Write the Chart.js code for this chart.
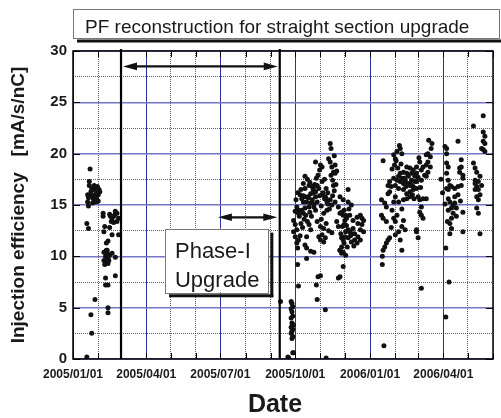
<!DOCTYPE html>
<html>
<head>
<meta charset="utf-8">
<script src="https://cdn.jsdelivr.net/npm/chart.js@4.4.1/dist/chart.umd.min.js"></script>
<style>
  html, body { margin: 0; padding: 0; background: #fff; }
  #wrap { width: 501px; height: 418px; }
</style>
</head>
<body>
<div id="wrap"><canvas id="effChart" width="501" height="418"></canvas></div>
<script>
const FONT = "'Liberation Sans', Arial, sans-serif";
const INK = "#1a1a1a";

// month grid of the x axis, labels only every quarter
const monthTicks = ["2005/01/01", "2005/02/01", "2005/03/01", "2005/04/01", "2005/05/01", "2005/06/01",
  "2005/07/01", "2005/08/01", "2005/09/01", "2005/10/01", "2005/11/01", "2005/12/01",
  "2006/01/01", "2006/02/01", "2006/03/01", "2006/04/01", "2006/05/01", "2006/06/01"];
const labelledTicks = ["2005/01/01", "2005/04/01", "2005/07/01", "2005/10/01", "2006/01/01", "2006/04/01"];
const effTicks = [0, 5, 10, 15, 20, 25, 30];

// shutdown for the straight section upgrade, and the Phase-I part of it
const shutdownDates = ["2005/03/01", "2005/09/12"];
const phaseIDates = ["2005/06/28", "2005/09/09"];

// measured points: day counted from 2005/01/01, efficiency in mA/s/nC
const run1Days = [21, 20, 23, 25, 22, 27, 30, 32, 29, 27, 31, 33, 18, 19, 18, 25, 29, 28, 24, 19, 26, 17, 19,
  37, 37, 45, 52, 54, 50, 48, 47, 56, 54, 50, 38, 45, 48, 56, 43, 41, 41, 38, 43, 40, 43, 38, 41, 45, 48, 52, 39, 43, 40, 52, 40, 43,
  27, 43, 43, 22, 23, 17,
  20, 23, 26, 31, 46, 51, 42, 44, 39];
const run1Eff = [18.5, 17.3, 16.6, 16.5, 16.3, 16.6, 16.8, 16.5, 16.2, 16.0, 16.0, 16.3, 16.0, 15.7, 15.3, 15.6, 15.6, 15.3, 15.2, 14.9, 15.9, 13.2, 12.7,
  14.2, 13.9, 14.1, 14.4, 14.2, 13.9, 13.7, 13.4, 13.7, 13.4, 13.3, 12.4, 12.8, 12.1, 12.1, 11.5, 11.3, 10.6, 10.4, 10.2, 10.0, 9.8, 9.6, 9.4, 10.1, 10.3, 9.9, 9.2, 9.3, 7.9, 8.1, 7.2, 7.2,
  5.8, 5.0, 4.5, 4.3, 2.5, 0.2,
  16.9, 15.9, 16.9, 15.4, 13.9, 14.0, 10.6, 9.6, 12.9];

const run2Days = [271, 264, 265, 270, 268, 269, 270, 268, 269, 270, 268, 269, 271, 268, 270, 269, 268, 270, 269, 255,
  277, 299, 301, 304, 300, 310, 311, 326, 332, 276,
  298, 304, 306, 316, 318, 322, 320, 317, 322, 319, 320, 316, 317, 314,
  285, 283, 280, 285, 290, 294, 296, 292, 298, 302, 306,
  279, 281, 285, 283, 287, 292, 294, 298, 300, 296, 298, 290, 285, 281, 277, 275, 273, 277, 283,
  310, 312, 316, 322, 318, 312, 308, 326, 328, 333, 335,
  271, 273, 275, 271, 273, 277, 275, 290, 292, 287, 285, 287, 287, 292,
  300, 304, 308, 306, 310, 304, 308, 333, 335, 330, 333, 328, 330,
  328, 332, 338, 338, 330, 332, 334, 336, 340, 344, 349, 353, 355, 357, 350, 344, 340, 346, 350, 353, 349, 342, 338, 334, 332, 330, 332, 328, 355, 353, 346, 357, 328,
  288, 291, 295, 300, 303, 306, 309, 313, 289, 296, 305, 311,
  274, 276, 278, 280, 282, 284, 286, 288, 279, 276, 283, 289, 291, 293, 295,
  297, 299, 301, 303, 307, 309, 311, 313, 315, 319, 321, 323, 305, 311, 314, 318, 302, 296, 321, 324,
  324, 326, 329, 331, 336, 338, 341, 343, 337, 335, 339, 342, 345];
const run2Eff = [0.6, 0.2, 0.1, 0.6, 5.6, 5.4, 5.1, 4.9, 4.6, 4.2, 4.0, 3.5, 3.3, 3.1, 2.9, 2.7, 2.5, 2.2, 2.0, 5.6,
  7.1, 7.2, 8.0, 8.1, 5.8, 4.8, 0.1, 7.9, 9.0, 9.2,
  19.2, 18.9, 18.7, 19.2, 18.7, 18.9, 18.2, 17.9, 18.1, 17.4, 16.9, 21.0, 20.5, 19.5,
  17.8, 17.1, 16.5, 16.6, 16.9, 16.8, 16.8, 16.1, 16.3, 16.6, 17.3,
  16.0, 15.6, 15.8, 15.3, 15.3, 15.2, 15.5, 15.8, 15.3, 14.8, 14.5, 14.8, 14.7, 14.5, 14.5, 14.8, 14.4, 14.2, 14.2,
  15.8, 15.3, 15.5, 15.3, 15.0, 14.5, 14.2, 14.8, 14.2, 14.5, 14.0,
  13.5, 13.1, 12.6, 12.4, 11.9, 11.6, 11.3, 13.1, 12.6, 11.9, 11.1, 10.8, 9.8, 10.5,
  13.4, 12.9, 12.7, 12.1, 11.8, 11.6, 11.4, 13.1, 12.4, 11.8, 11.3, 10.6, 10.3,
  15.8, 15.5, 16.5, 15.3, 14.3, 14.0, 13.5, 13.7, 14.0, 13.5, 13.8, 14.0, 13.7, 13.5, 13.2, 12.7, 12.4, 12.2, 11.9, 11.6, 11.3, 11.4, 11.8, 11.9, 11.6, 10.9, 10.4, 10.6, 13.1, 12.6, 11.6, 12.4, 8.0,
  17.5, 17.2, 16.2, 16.9, 15.9, 16.0, 15.6, 16.2, 15.8, 15.1, 14.9, 15.6,
  15.5, 16.2, 13.9, 13.2, 12.8, 13.6, 14.0, 13.4, 12.0, 10.8, 15.9, 15.7, 14.3, 13.9, 16.5,
  17.0, 17.6, 17.9, 18.4, 16.2, 17.5, 16.6, 15.1, 14.6, 15.9, 16.4, 17.0, 13.6, 13.2, 12.5, 12.3, 11.9, 10.4, 19.8, 18.3,
  13.4, 12.9, 12.2, 12.9, 13.0, 12.6, 12.0, 12.2, 10.9, 10.1, 14.6, 15.0, 11.0];

const run3Days = [381, 402, 398, 394, 396, 404, 401,
  410, 414, 418, 416, 410, 406, 402, 400, 404, 408, 412, 416, 420, 422, 418, 414, 410, 406, 402, 398, 394, 389, 387, 391, 396, 400, 406, 410, 414, 418, 422, 389, 387, 396, 400, 406, 410, 414, 394,
  379, 383, 385, 379, 381, 385, 394, 396, 406, 404, 408, 400, 402, 404, 387, 385, 383, 381, 389, 380, 380, 382, 422, 424,
  441, 440, 436, 434, 439, 436, 434, 439, 436, 430, 432, 434, 428, 422, 422, 420, 426, 428, 424, 426, 430, 434, 428, 426, 428, 430, 428, 422,
  457, 459, 459, 473, 459, 461, 459, 461, 463, 459, 461, 465, 469, 473, 477, 479, 475, 477, 477, 475, 479, 473, 461, 469, 463, 467, 465, 469, 471, 461, 467, 471, 465, 463, 465, 463, 479, 479, 458, 462, 458,
  504, 492, 504, 506, 504, 506, 502, 504, 506, 492, 494, 496, 500, 498, 494, 496, 498, 500, 496, 494, 498, 496, 498, 500, 494, 502,
  392, 395, 397, 399, 403, 407, 409, 412, 415, 417, 419, 392, 398, 404, 396, 391,
  424, 427, 425, 437, 452, 454, 457, 460, 476];
const run3Eff = [19.3, 20.5, 20.2, 19.9, 19.5, 20.0, 20.8,
  18.7, 18.6, 18.4, 18.1, 18.1, 18.2, 18.1, 17.8, 17.6, 17.4, 17.8, 17.4, 17.8, 17.3, 16.8, 16.9, 17.1, 17.1, 17.3, 17.4, 17.6, 17.3, 16.9, 16.8, 16.9, 16.6, 16.5, 16.1, 16.3, 16.5, 16.6, 16.3, 16.1, 15.8, 15.3, 15.5, 15.6, 15.8, 15.3,
  15.5, 15.2, 14.8, 14.0, 13.7, 13.4, 13.7, 13.4, 13.5, 12.9, 12.6, 12.4, 11.6, 10.6, 11.6, 11.3, 10.9, 10.6, 11.8, 10.0, 9.2, 1.3, 12.6, 11.8,
  21.0, 20.5, 20.0, 19.9, 19.7, 19.2, 18.9, 18.7, 18.2, 18.7, 17.9, 17.8, 17.4, 18.7, 18.1, 17.3, 19.2, 18.4, 15.8, 15.5, 15.6, 15.6, 14.8, 14.3, 14.0, 13.7, 6.9, 12.4,
  20.7, 20.5, 20.0, 21.2, 19.1, 18.7, 18.1, 17.4, 16.9, 16.6, 16.5, 16.8, 16.6, 16.8, 16.9, 17.6, 18.2, 18.7, 19.4, 18.6, 17.9, 16.0, 15.6, 15.8, 15.3, 15.0, 14.7, 15.2, 14.7, 14.5, 14.2, 13.9, 13.7, 13.2, 12.7, 12.2, 14.3, 12.4, 10.8, 7.5, 4.1,
  23.7, 22.7, 22.1, 21.7, 21.2, 21.0, 20.5, 20.4, 20.2, 19.1, 18.6, 18.2, 17.8, 17.3, 17.1, 16.8, 16.5, 16.0, 15.8, 16.5, 15.5, 14.7, 14.2, 12.2, 17.4, 16.9,
  18.5, 18.9, 19.3, 18.6, 19.0, 17.6, 16.8, 17.1, 17.0, 16.0, 15.6, 14.5, 14.0, 14.6, 12.1, 12.8,
  17.7, 16.7, 19.6, 21.3, 17.5, 16.2, 15.1, 13.4, 15.4];

const dayOf = (s) => {
  const [yy, mm, dd] = s.split("/").map(Number);
  return (Date.UTC(yy, mm - 1, dd) - Date.UTC(2005, 0, 1)) / 86400000;
};

const toPoints = (days, eff) => days.map((d, i) => ({ x: d, y: eff[i] }));
const points = [
  ...toPoints(run1Days, run1Eff),
  ...toPoints(run2Days, run2Eff),
  ...toPoints(run3Days, run3Eff)
];

const drawArrow = (ctx, x1, x2, yy) => {
  const head = 14, half = 3.8;
  ctx.beginPath();
  ctx.moveTo(x1 + head - 2, yy);
  ctx.lineTo(x2 - head + 2, yy);
  ctx.stroke();
  [[x1, 1], [x2, -1]].forEach(([tip, dir]) => {
    ctx.beginPath();
    ctx.moveTo(tip, yy);
    ctx.lineTo(tip + dir * head, yy - half);
    ctx.lineTo(tip + dir * head, yy + half);
    ctx.closePath();
    ctx.fill();
  });
};

const overlay = {
  id: "overlay",
  afterDraw(chart) {
    const { ctx, chartArea: a, scales: { x, y } } = chart;
    ctx.save();

    // short inner ticks on all four sides
    ctx.strokeStyle = "#000";
    ctx.lineWidth = 1;
    ctx.beginPath();
    monthTicks.forEach((s) => {
      const px = Math.round(x.getPixelForValue(dayOf(s))) + 0.5;
      ctx.moveTo(px, a.bottom); ctx.lineTo(px, a.bottom - 6);
      ctx.moveTo(px, a.top); ctx.lineTo(px, a.top + 6);
    });
    effTicks.forEach((v) => {
      const py = Math.round(y.getPixelForValue(v)) + 0.5;
      ctx.moveTo(a.left, py); ctx.lineTo(a.left + 7, py);
      ctx.moveTo(a.right, py); ctx.lineTo(a.right - 7, py);
    });
    ctx.stroke();

    // shutdown limits
    ctx.lineWidth = 2.2;
    ctx.beginPath();
    shutdownDates.forEach((s) => {
      const px = x.getPixelForValue(dayOf(s));
      ctx.moveTo(px, a.top - 2); ctx.lineTo(px, a.bottom);
    });
    ctx.stroke();

    // frame
    ctx.lineWidth = 1.5;
    ctx.strokeRect(a.left, a.top, a.right - a.left, a.bottom - a.top);

    // arrows
    ctx.fillStyle = "#111";
    ctx.strokeStyle = "#111";
    ctx.lineWidth = 2.2;
    drawArrow(ctx, x.getPixelForValue(dayOf(shutdownDates[0])) + 2, x.getPixelForValue(dayOf(shutdownDates[1])) - 2, y.getPixelForValue(28.5));
    drawArrow(ctx, x.getPixelForValue(dayOf(phaseIDates[0])), x.getPixelForValue(dayOf(phaseIDates[1])), y.getPixelForValue(13.8));

    // Phase-I label box
    const bl = x.getPixelForValue(113), br = x.getPixelForValue(240);
    const bt = y.getPixelForValue(12.7), bb = y.getPixelForValue(6.5);
    ctx.fillStyle = "#111";
    ctx.fillRect(br + 2, bt + 4, 3, bb - bt + 1);
    ctx.fillRect(bl + 4, bb + 2, br - bl + 1, 3);
    ctx.fillStyle = "#fff";
    ctx.fillRect(bl, bt, br - bl, bb - bt);
    ctx.strokeStyle = "#777";
    ctx.lineWidth = 1;
    ctx.strokeRect(Math.round(bl) + 0.5, Math.round(bt) + 0.5, Math.round(br - bl), Math.round(bb - bt));
    ctx.fillStyle = INK;
    ctx.font = `22px ${FONT}`;
    ctx.textAlign = "left";
    ctx.textBaseline = "alphabetic";
    ctx.fillText("Phase-I", bl + 10, bt + 29);
    ctx.fillText("Upgrade", bl + 10, bt + 58);

    // title box above the plot
    ctx.fillStyle = "#111";
    ctx.fillRect(77, 39.5, 424, 3);
    ctx.strokeStyle = "#777";
    ctx.strokeRect(73.5, 9.5, 426, 29);
    ctx.fillStyle = INK;
    ctx.font = `19px ${FONT}`;
    ctx.fillText("PF reconstruction for straight section upgrade", 85, 33);

    // x axis title
    ctx.font = `bold 25px ${FONT}`;
    ctx.textAlign = "center";
    ctx.fillText("Date", 275, 412);

    ctx.restore();
  }
};

new Chart(document.getElementById("effChart"), {
  type: "scatter",
  data: {
    datasets: [{
      data: points,
      backgroundColor: "#111",
      borderWidth: 0,
      pointRadius: 2.5,
      pointHoverRadius: 2.5
    }]
  },
  options: {
    responsive: false,
    animation: false,
    devicePixelRatio: 1,
    layout: { padding: { top: 51, right: 8, left: 0, bottom: 0 } },
    plugins: { legend: { display: false }, tooltip: { enabled: false } },
    scales: {
      x: {
        type: "linear",
        min: dayOf(monthTicks[0]),
        max: dayOf(monthTicks[monthTicks.length - 1]),
        afterBuildTicks: (scale) => {
          scale.ticks = monthTicks.map((s) => ({ value: dayOf(s) }));
        },
        afterFit: (scale) => { scale.height = 59; },
        ticks: {
          autoSkip: false,
          maxRotation: 0,
          padding: 8,
          color: INK,
          font: { family: FONT, size: 12, weight: "bold" },
          callback: (v) => {
            const s = monthTicks.find((t) => dayOf(t) === v);
            return labelledTicks.includes(s) ? s : "";
          }
        },
        grid: {
          drawTicks: false,
          color: (c) => (c.index % 3 === 0 ? "#2e2e9e" : "rgba(40,40,40,0.75)"),
          lineWidth: 1
        },
        border: {
          display: false,
          dash: (c) => (c.tick && c.index % 3 !== 0 ? [1, 1] : [])
        }
      },
      y: {
        min: 0,
        max: 30,
        afterFit: (scale) => { scale.width = 73; },
        ticks: {
          stepSize: 2.5,
          autoSkip: false,
          padding: 6,
          color: INK,
          font: { family: FONT, size: 15, weight: "bold" },
          callback: (v) => (effTicks.includes(v) ? v : "")
        },
        grid: {
          drawTicks: false,
          color: (c) => (c.tick && effTicks.includes(c.tick.value) ? "#7576c2" : "rgba(40,40,40,0.75)"),
          lineWidth: (c) => (c.tick && effTicks.includes(c.tick.value) ? 1.6 : 1)
        },
        border: {
          display: false,
          dash: (c) => (c.tick && !effTicks.includes(c.tick.value) ? [1, 1] : [])
        },
        title: {
          display: true,
          text: "Injection efficiency   [mA/s/nC]",
          color: INK,
          font: { family: FONT, size: 19, weight: "bold" },
          padding: { top: 7, bottom: 0 }
        }
      }
    }
  },
  plugins: [overlay]
});
</script>
</body>
</html>
